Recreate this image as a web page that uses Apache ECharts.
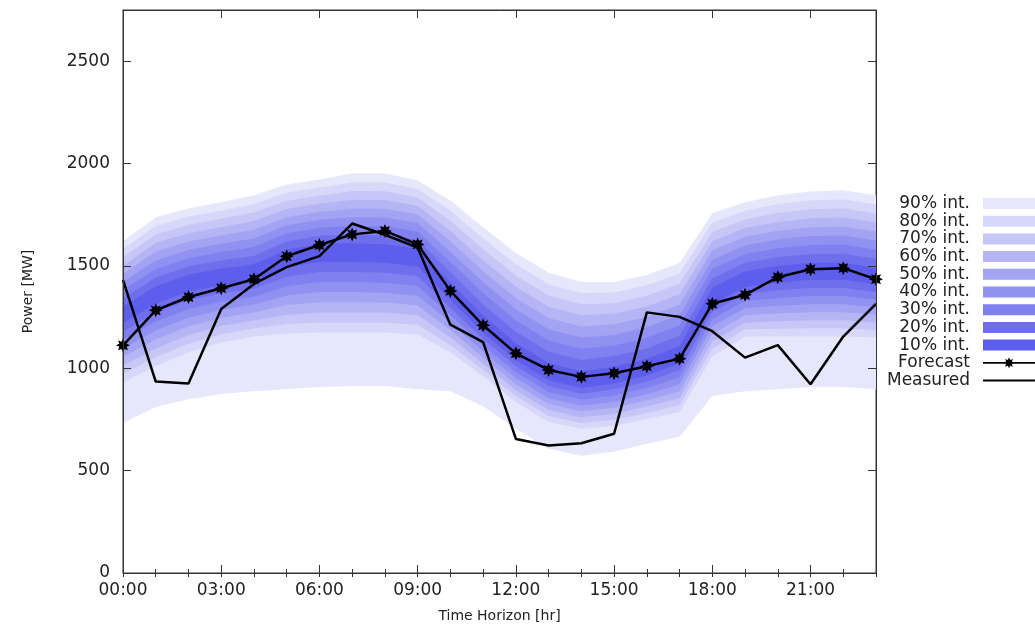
<!DOCTYPE html>
<html>
<head>
<meta charset="utf-8">
<script src="https://cdn.jsdelivr.net/npm/echarts@6/dist/echarts.min.js"></script>
<style>
  html, body { margin: 0; padding: 0; background: #fff; }
  #chart { width: 1035px; height: 628px; }
</style>
</head>
<body>
<div id="chart"></div>
<script>
// Hourly horizon, 00:00 .. 23:00
const hours = [0,1,2,3,4,5,6,7,8,9,10,11,12,13,14,15,16,17,18,19,20,21,22,23];

// Point forecast and measured power [MW]
const forecast = [1112,1283,1348,1391,1435,1547,1602,1654,1671,1605,1378,1210,1073,992,958,976,1010,1047,1315,1359,1445,1484,1489,1435];
const measured = [1432,935,926,1290,1412,1494,1548,1707,1652,1590,1213,1128,655,623,634,680,1273,1251,1181,1052,1113,922,1155,1314];

// Upper edges of the prediction intervals [MW]
const u90 = [1621,1738,1781,1811,1845,1898,1922,1951,1951,1917,1820,1689,1563,1466,1422,1422,1456,1514,1757,1811,1845,1864,1869,1845];
const u80 = [1581,1696,1741,1770,1803,1858,1883,1908,1908,1876,1770,1635,1508,1411,1368,1370,1405,1463,1712,1769,1802,1820,1825,1801];
const u70 = [1541,1654,1700,1730,1761,1818,1843,1866,1865,1834,1720,1581,1453,1356,1313,1318,1354,1413,1666,1727,1758,1777,1780,1756];
const u60 = [1501,1612,1660,1689,1719,1778,1804,1823,1822,1793,1670,1527,1398,1301,1259,1267,1302,1362,1621,1685,1715,1733,1736,1712];
const u50 = [1461,1570,1619,1649,1677,1738,1765,1781,1779,1751,1620,1474,1343,1246,1204,1215,1251,1311,1576,1643,1672,1689,1692,1668];
const u40 = [1422,1527,1579,1608,1634,1699,1725,1738,1735,1710,1569,1420,1288,1191,1150,1163,1200,1261,1530,1600,1629,1646,1648,1623];
const u30 = [1382,1485,1538,1568,1592,1659,1686,1696,1692,1668,1519,1366,1233,1136,1095,1111,1149,1210,1485,1558,1586,1602,1604,1579];
const u20 = [1342,1443,1498,1527,1550,1619,1647,1653,1649,1627,1469,1312,1178,1081,1041,1060,1097,1159,1440,1516,1542,1558,1559,1535];
const u10 = [1302,1401,1457,1487,1508,1579,1607,1611,1606,1585,1419,1258,1123,1026,986,1008,1046,1109,1394,1474,1499,1515,1515,1490];

// Lower edges of the prediction intervals [MW]
const l10 = [1221,1315,1375,1406,1427,1493,1519,1519,1515,1497,1333,1174,1039,942,904,926,965,1024,1313,1397,1418,1432,1432,1409];
const l20 = [1180,1272,1332,1366,1388,1447,1470,1470,1466,1449,1296,1143,1010,913,875,897,934,990,1276,1363,1381,1392,1392,1372];
const l30 = [1138,1228,1290,1326,1349,1401,1421,1421,1418,1402,1260,1113,981,884,847,867,904,956,1240,1328,1343,1353,1353,1335];
const l40 = [1097,1185,1247,1286,1311,1355,1372,1372,1369,1354,1223,1083,952,854,818,837,873,922,1204,1294,1306,1313,1313,1298];
const l50 = [1056,1141,1205,1246,1272,1309,1323,1323,1321,1307,1187,1052,922,825,790,807,843,888,1167,1259,1268,1274,1274,1261];
const l60 = [1015,1097,1163,1206,1233,1262,1273,1273,1272,1260,1151,1022,893,796,761,778,813,854,1131,1224,1230,1234,1234,1224];
const l70 = [973,1054,1120,1166,1194,1216,1224,1224,1224,1212,1114,991,864,767,733,748,782,820,1094,1190,1193,1195,1195,1187];
const l80 = [932,1010,1078,1126,1155,1170,1175,1175,1175,1165,1078,961,835,738,704,718,752,786,1058,1155,1155,1155,1155,1150];
const l90 = [733,811,849,874,888,898,908,913,913,898,888,815,704,607,573,592,631,665,864,888,898,908,908,898];

const bandNames = ['90% int.','80% int.','70% int.','60% int.','50% int.','40% int.','30% int.','20% int.','10% int.'];
const bandColors = ['#e7e7fb','#d7d7f9','#c6c6f7','#b5b5f5','#a3a3f3','#9191f1','#8080f0','#6f6fee','#5e5eec'];
const bandLower = [l90,l80,l70,l60,l50,l40,l30,l20,l10];
const bandUpper = [u90,u80,u70,u60,u50,u40,u30,u20,u10];

const yTickLabels = [0,500,1000,1500,2000,2500];
const xTickHours = [0,3,6,9,12,15,18,21];

// 8-point star marker for the forecast points
const starPath = 'path://M50,0L60.7,24.1L85.4,14.6L75.9,39.3L100,50L75.9,60.7L85.4,85.4L60.7,75.9L50,100L39.3,75.9L14.6,85.4L24.1,60.7L0,50L24.1,39.3L14.6,14.6L39.3,24.1Z';
// Legend keys: line with star, and plain line (zero-area slivers fix the box height)
const forecastKey = 'path://M26,0L27.19,2.64L29.89,1.61L28.86,4.31L31.5,5.5L28.86,6.69L29.89,9.39L27.19,8.36L26,11L24.81,8.36L22.11,9.39L23.14,6.69L20.5,5.5L23.14,4.31L22.11,1.61L24.81,2.64Z M0,4.6H52V6.4H0Z';
const measuredKey = 'path://M0,0L52,0L52,0.01Z M0,4.6H52V6.4H0Z M0,11L52,11L52,11.01Z';

const FONT = 'DejaVu Sans';
const TXT = '#222';
const AX = '#333';

const series = [];
// Nested interval bands, widest first so narrower (darker) ones sit on top
bandNames.forEach((name, i) => {
  series.push({
    type: 'custom', name: name, silent: true, z: 1,
    coordinateSystem: 'cartesian2d', xAxisIndex: 0, yAxisIndex: 0,
    itemStyle: { color: bandColors[i] },
    data: [[hours[0], bandLower[i][0]]],
    renderItem: function (params, api) {
      const hi = bandUpper[i], lo = bandLower[i];
      const pts = [];
      for (let j = 0; j < hours.length; j++) pts.push(api.coord([hours[j], hi[j]]));
      for (let j = hours.length - 1; j >= 0; j--) pts.push(api.coord([hours[j], lo[j]]));
      return { type: 'polygon', shape: { points: pts }, style: { fill: bandColors[i], stroke: null } };
    }
  });
});
series.push({
  type: 'line', name: 'Measured',
  data: hours.map((h, j) => [h, measured[j]]),
  symbol: 'none', z: 5,
  itemStyle: { color: '#000' },
  lineStyle: { color: '#000', width: 2.5 }
});
series.push({
  type: 'line', name: 'Forecast',
  data: hours.map((h, j) => [h, forecast[j]]),
  symbol: starPath, symbolSize: 14, showAllSymbol: true, z: 6,
  itemStyle: { color: '#000', borderWidth: 0 },
  lineStyle: { color: '#000', width: 2.5 }
});

const hourLabel = v => (xTickHours.indexOf(v) >= 0 ? String(v).padStart(2, '0') + ':00' : '');
const powerLabel = v => (yTickLabels.indexOf(v) >= 0 ? String(v) : '');

const baseX = {
  type: 'value', min: 0, max: 23, gridIndex: 0, z: 8,
  splitLine: { show: false },
  axisLine: { show: true, onZero: false, lineStyle: { color: AX, width: 1 } }
};
const baseY = {
  type: 'value', min: 0, max: 2750, interval: 500, gridIndex: 0, z: 8,
  splitLine: { show: false },
  axisLine: { show: true, onZero: false, lineStyle: { color: AX, width: 1 } }
};

const option = {
  animation: false,
  backgroundColor: '#fff',
  grid: { left: 123, right: 159, top: 10, bottom: 53, show: true, borderColor: AX, borderWidth: 1, backgroundColor: 'transparent' },
  legend: {
    orient: 'vertical', right: 0, top: 195, align: 'right', padding: 0,
    itemWidth: 52, itemHeight: 11, itemGap: 0.7, selectedMode: false,
    textStyle: { fontFamily: FONT, fontSize: 17, color: TXT, lineHeight: 17, padding: [0, 8, 0, 0] },
    data: bandNames.map((n, i) => ({ name: n, icon: 'rect', itemStyle: { color: bandColors[i] } }))
      .concat([
        { name: 'Forecast', icon: forecastKey, itemStyle: { color: '#000' } },
        { name: 'Measured', icon: measuredKey, itemStyle: { color: '#000' } }
      ])
  },
  xAxis: [
    Object.assign({}, baseX, {
      position: 'bottom', interval: 3,
      name: 'Time Horizon [hr]', nameLocation: 'middle', nameGap: 36,
      nameTextStyle: { fontFamily: FONT, fontSize: 14, color: TXT },
      axisTick: { show: true, inside: true, length: 8, lineStyle: { color: AX } },
      axisLabel: { show: true, formatter: hourLabel, margin: 9, fontFamily: FONT, fontSize: 17, color: TXT, showMaxLabel: false }
    }),
    Object.assign({}, baseX, {
      position: 'bottom', interval: 1,
      axisLine: { show: false },
      axisTick: { show: true, inside: true, length: 4, lineStyle: { color: AX } },
      axisLabel: { show: false }
    }),
    Object.assign({}, baseX, {
      position: 'top', interval: 3,
      axisTick: { show: true, inside: true, length: 8, lineStyle: { color: AX } },
      axisLabel: { show: false }
    }),
    Object.assign({}, baseX, {
      position: 'top', interval: 1,
      axisLine: { show: false },
      axisTick: { show: true, inside: true, length: 4, lineStyle: { color: AX } },
      axisLabel: { show: false }
    })
  ],
  yAxis: [
    Object.assign({}, baseY, {
      position: 'left',
      name: 'Power [MW]', nameLocation: 'middle', nameGap: 88, nameRotate: 90,
      nameTextStyle: { fontFamily: FONT, fontSize: 14, color: TXT },
      axisTick: { show: true, inside: true, length: 8, lineStyle: { color: AX } },
      axisLabel: { show: true, formatter: powerLabel, margin: 13, fontFamily: FONT, fontSize: 17, color: TXT, showMaxLabel: false }
    }),
    Object.assign({}, baseY, {
      position: 'right',
      axisTick: { show: true, inside: true, length: 8, lineStyle: { color: AX } },
      axisLabel: { show: false }
    })
  ],
  series: series
};

const chart = echarts.init(document.getElementById('chart'), null, { renderer: 'canvas' });
chart.setOption(option);
</script>
</body>
</html>
